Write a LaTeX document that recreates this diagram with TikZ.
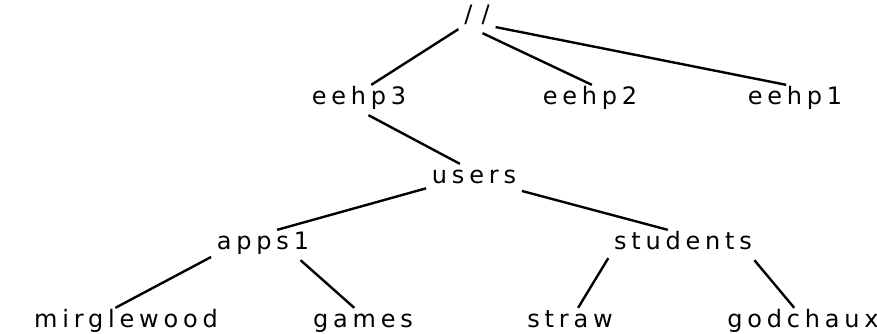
\documentclass[tikz,border=0pt]{standalone}
\usepackage{fontspec}
\newfontfamily\dirfont[LetterSpace=20]{DejaVu Sans}
\tikzset{every picture/.style={line width=0.75pt}}
\tikzset{dirname/.style={font=\dirfont\fontsize{18}{21}\selectfont, inner xsep=4pt, inner ysep=6pt, text height=0.8em, text depth=0.2em},
  branch/.style={line width=1.8pt}}

\begin{document}
\begin{tikzpicture}[x=0.75pt,y=0.75pt,yscale=-1,xscale=1]
\path[use as bounding box] (0,0) rectangle (877,333);

% Text Node
\node[dirname] (root) at (477,18) {/\kern7pt/};
% Text Node
\node[dirname] (eehp3) at (359,100) {eehp3};
% Text Node
\node[dirname] (eehp2) at (590,100) {eehp2};
% Text Node
\node[dirname] (eehp1) at (795,100) {eehp1};
% Text Node
\node[dirname] (users) at (474,179) {users};
% Text Node
\node[dirname] (apps1) at (263,245) {apps1};
% Text Node
\node[dirname] (students) at (683,245) {students};
% Text Node
\node[dirname] (mirglewood) at (126,323) {mirglewood};
% Text Node
\node[dirname] (games) at (363,323) {games};
% Text Node
\node[dirname] (straw) at (570,323) {straw};
% Text Node
\node[dirname] (godchaux) at (803,323) {godchaux};

%Straight Lines
\draw[branch] (root.211) -- (eehp3.51);
\draw[branch] (root.290) -- (eehp2.83);
\draw[branch] (root.-26) -- (eehp1.120);
%Straight Lines
\draw[branch] (eehp3.-58) -- (users.133);
%Straight Lines
\draw[branch] (users.191) -- (apps1.47);
\draw[branch] (users.-14) -- (students.135);
%Straight Lines
\draw[branch] (apps1.193) -- (mirglewood.125);
\draw[branch] (apps1.-22) -- (games.120);
\draw[branch] (students.190) -- (straw.62);
\draw[branch] (students.-12) -- (godchaux.120);

\end{tikzpicture}
\end{document}
